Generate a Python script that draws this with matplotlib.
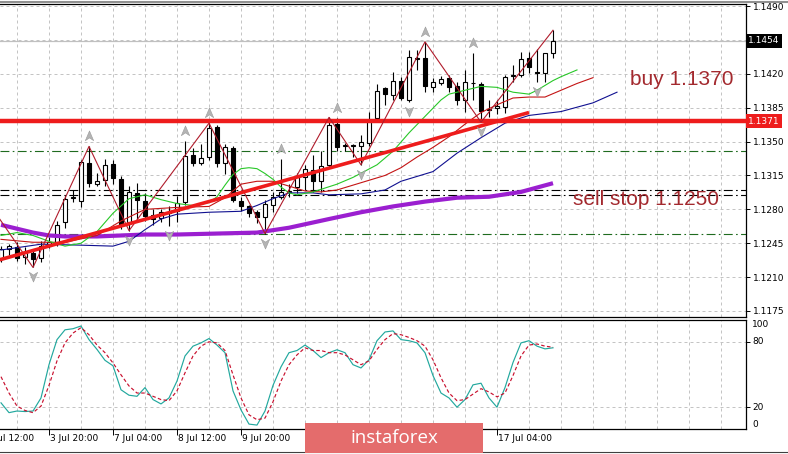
"""EURUSD H4 chart in the MT4 look: candles, alligator, zigzag, fractals, levels and a stochastic pane."""
import numpy as np
import matplotlib
matplotlib.use("Agg")
import matplotlib.pyplot as plt
from matplotlib.transforms import blended_transform_factory, offset_copy
from matplotlib.patches import Rectangle
from matplotlib.path import Path
from matplotlib.lines import Line2D

# ---- candles (bar index 2..71, one bar = 4h) ----
bar_idx = np.arange(2, 72)
opens = [1.1229, 1.1239, 1.1241, 1.1231, 1.1235, 1.1230, 1.1242, 1.1244, 1.1267, 1.1292,
         1.1289, 1.1328, 1.1306, 1.1310, 1.1327, 1.1311, 1.1267, 1.1297, 1.1289, 1.1274,
         1.1271, 1.1277, 1.1278, 1.1288, 1.1336, 1.1328, 1.1334, 1.1365, 1.1328, 1.1343,
         1.1289, 1.1283, 1.1277, 1.1272, 1.1285, 1.1293, 1.1298, 1.1303, 1.1313, 1.1321,
         1.1309, 1.1326, 1.1368, 1.1345, 1.1345, 1.1345, 1.1349, 1.1374, 1.1405, 1.1398,
         1.1413, 1.1393, 1.1436, 1.1436, 1.1406, 1.1411, 1.1416, 1.1407, 1.1393, 1.1411,
         1.1409, 1.1384, 1.1385, 1.1386, 1.1418, 1.1419, 1.1436, 1.1422, 1.1421, 1.1442]
highs = [1.1242, 1.1244, 1.1246, 1.1241, 1.1237, 1.1247, 1.1251, 1.1268, 1.1295, 1.1300,
         1.1331, 1.1345, 1.1318, 1.1332, 1.1331, 1.1314, 1.1304, 1.1307, 1.1297, 1.1280,
         1.1280, 1.1283, 1.1294, 1.1351, 1.1343, 1.1347, 1.1369, 1.1367, 1.1347, 1.1345,
         1.1293, 1.1285, 1.1279, 1.1290, 1.1298, 1.1332, 1.1306, 1.1318, 1.1326, 1.1336,
         1.1340, 1.1375, 1.1374, 1.1349, 1.1348, 1.1357, 1.1381, 1.1409, 1.1406, 1.1422,
         1.1417, 1.1445, 1.1445, 1.1453, 1.1416, 1.1418, 1.1419, 1.1412, 1.1424, 1.1442,
         1.1412, 1.1393, 1.1393, 1.1419, 1.1429, 1.1443, 1.1443, 1.1446, 1.1442, 1.1465]
lows = [1.1226, 1.1233, 1.1227, 1.1224, 1.1220, 1.1226, 1.1240, 1.1242, 1.1261, 1.1288,
        1.1282, 1.1303, 1.1304, 1.1304, 1.1306, 1.1260, 1.1258, 1.1270, 1.1268, 1.1264,
        1.1267, 1.1263, 1.1267, 1.1285, 1.1325, 1.1326, 1.1331, 1.1324, 1.1316, 1.1288,
        1.1278, 1.1272, 1.1266, 1.1255, 1.1277, 1.1291, 1.1293, 1.1297, 1.1300, 1.1298,
        1.1298, 1.1323, 1.1340, 1.1340, 1.1334, 1.1326, 1.1345, 1.1370, 1.1388, 1.1393,
        1.1393, 1.1391, 1.1424, 1.1401, 1.1401, 1.1408, 1.1401, 1.1388, 1.1381, 1.1393,
        1.1370, 1.1375, 1.1378, 1.1380, 1.1412, 1.1417, 1.1421, 1.1412, 1.1412, 1.1436]
closes = [1.1239, 1.1242, 1.1230, 1.1235, 1.1229, 1.1242, 1.1246, 1.1264, 1.1291, 1.1293,
          1.1329, 1.1307, 1.1309, 1.1326, 1.1312, 1.1264, 1.1298, 1.1290, 1.1273, 1.1270,
          1.1277, 1.1276, 1.1287, 1.1335, 1.1328, 1.1333, 1.1364, 1.1328, 1.1344, 1.1290,
          1.1283, 1.1276, 1.1272, 1.1286, 1.1293, 1.1298, 1.1299, 1.1314, 1.1322, 1.1309,
          1.1325, 1.1367, 1.1344, 1.1346, 1.1346, 1.1350, 1.1372, 1.1402, 1.1399, 1.1413,
          1.1395, 1.1437, 1.1435, 1.1407, 1.1412, 1.1415, 1.1406, 1.1393, 1.1412, 1.1410,
          1.1382, 1.1383, 1.1387, 1.1417, 1.1419, 1.1435, 1.1427, 1.1421, 1.1441, 1.1454]

# ---- moving averages, read at sample bars ----
lips_idx = [2, 4, 6, 8, 10, 12, 14, 16, 18, 20, 22, 24, 26, 28, 29, 30, 31, 32, 33, 34, 35, 36,
            37, 38, 39, 41, 44, 46, 49, 51, 53, 55, 57, 58, 60, 62, 64, 66, 68, 69, 71, 72, 74]
lips = [1.1253, 1.1256, 1.1253, 1.1247, 1.1242, 1.1245, 1.1257, 1.1276, 1.1291, 1.1295, 1.1290,
        1.1286, 1.1284, 1.1287, 1.1293, 1.1305, 1.1316, 1.1322, 1.1323, 1.1322, 1.1317, 1.1311,
        1.1303, 1.1297, 1.1295, 1.1298, 1.1306, 1.1313, 1.1326, 1.1340, 1.1359, 1.1376, 1.1393,
        1.1399, 1.1403, 1.1407, 1.1406, 1.1401, 1.1399, 1.1403, 1.1413, 1.1417, 1.1424]
teeth_idx = [2, 6, 10, 14, 17, 20, 24, 28, 30, 32, 34, 36, 38, 40, 42, 44, 46, 48, 50, 52, 54,
             56, 58, 60, 62, 64, 66, 68, 70, 72, 74, 76]
teeth = [1.1249, 1.1246, 1.1246, 1.1253, 1.1268, 1.1280, 1.1282, 1.1283, 1.1292, 1.1306, 1.1309,
         1.1309, 1.1304, 1.1299, 1.1298, 1.1300, 1.1305, 1.1310, 1.1315, 1.1323, 1.1334, 1.1344,
         1.1355, 1.1368, 1.1380, 1.1388, 1.1395, 1.1396, 1.1396, 1.1403, 1.1410, 1.1416]
jaw_idx = [2, 7, 12, 16, 18, 20, 22, 24, 28, 32, 34, 36, 38, 41, 43, 47, 50, 52, 56, 59, 62, 65,
           68, 72, 76, 79]
jaw = [1.1238, 1.1244, 1.1243, 1.1242, 1.1247, 1.1259, 1.1270, 1.1275, 1.1277, 1.1278, 1.1284,
       1.1291, 1.1297, 1.1297, 1.1295, 1.1296, 1.1300, 1.1309, 1.1319, 1.1338, 1.1354, 1.1369,
       1.1377, 1.1381, 1.1390, 1.1401]
slow_idx = [2, 4, 6, 8, 10, 14, 20, 24, 29, 34, 38, 43, 47, 51, 55, 59, 63, 67, 71]
slow_ma = [1.1264, 1.1260, 1.1256, 1.1253, 1.1252, 1.1252, 1.1254, 1.1254, 1.1255, 1.1256, 1.1261,
           1.1270, 1.1277, 1.1283, 1.1288, 1.1292, 1.1293, 1.1298, 1.1307]

# ---- zigzag, fractals, objects ----
zz_idx = [0, 6, 13, 18, 28, 35, 43, 47, 55, 62, 71]
zz_px = [1.1292, 1.1220, 1.1345, 1.1258, 1.1369, 1.1255, 1.1375, 1.1326, 1.1453, 1.1370, 1.1465]
frac_up = [13, 25, 28, 37, 44, 55, 61]
frac_dn = [6, 18, 23, 35, 47, 53, 62, 69]
trend_idx = [1, 68]
trend_px = [1.1226, 1.1380]
level_buy = 1.1371
green_levels = [1.1340, 1.1255]
black_levels = [1.1300, 1.1295]
last_price = 1.1454

# ---- stochastic ----
stoch_main = [24, 15, 16.5, 16, 16.5, 28.5, 59, 82, 91, 92, 94.5, 82, 73, 63, 58, 36, 31, 30, 38, 27,
              23, 28.5, 44, 67, 76, 79, 83, 77, 70, 35, 17.5, 4.5, 3.6, 16.5, 40, 57, 70, 72, 77, 72,
              65.5, 70, 72.7, 70, 59, 56, 63.5, 81, 89, 90, 82, 81, 79, 70, 49, 33, 28.5, 20, 27, 40.5,
              42, 28.5, 20, 38, 61, 79, 81, 76, 73.5, 74.5]
stoch_sig = [48, 33, 21, 17, 15, 21, 40, 62.5, 79, 88, 93, 86.5, 77, 70, 60.6, 49.7, 39.5, 33, 33, 30,
             27, 26, 35, 51.5, 67, 76, 80, 79, 72, 49.7, 28.5, 13, 8.5, 10, 25, 44, 59, 68, 74.5, 72,
             72, 70, 70, 68, 63.5, 59, 62.5, 73, 82, 87.5, 86.5, 84, 81, 76, 63.5, 47, 33, 26, 27, 32,
             37, 34, 29.5, 33, 49, 67, 77, 78, 76, 75]

price_ticks = [1.1175, 1.1210, 1.1245, 1.1280, 1.1315, 1.1350, 1.1385, 1.1420, 1.1455, 1.1490]
# time labels that are not hidden behind the logo
time_idx = [0, 8, 16, 24, 32, 64]
time_labels = ["2 Jul 12:00", "3 Jul 20:00", "7 Jul 04:00", "8 Jul 12:00", "9 Jul 20:00",
               "17 Jul 04:00"]
time_marks = [8, 16, 24, 32, 40, 48, 56, 64]

W, H = 788, 454
fig = plt.figure(figsize=(W / 100, H / 100), dpi=100)


def box(x0, y0, x1, y1):
    return [x0 / W, 1 - y1 / H, (x1 - x0) / W, (y1 - y0) / H]


ax = fig.add_axes(box(0, 4, 746, 317))
ax2 = fig.add_axes(box(0, 320, 746, 429))
XL = (1.875, 95.125)
GRID = dict(color="#c4c4c4", lw=0.72, ls=(0, (3, 3)), zorder=0)
for a in (ax, ax2):
    a.set_xlim(*XL)
    a.spines["left"].set_visible(False)
    for s in ("top", "right", "bottom"):
        a.spines[s].set_linewidth(0.9)
    for g in np.arange(4, 95, 4):
        a.axvline(g, **GRID)

ax.set_ylim(1.11688, 1.14921)
for p in price_ticks:
    ax.axhline(p, **GRID)
ax.axhline(last_price, color="#c0c0c0", lw=0.9, zorder=1)

tick_font = dict(family="DejaVu Sans", size=6.5)
ax.yaxis.tick_right()
ax.set_yticks(price_ticks)
ax.set_yticklabels([f"{p:.4f}" if p != 1.1455 else "" for p in price_ticks], **tick_font)
ax.tick_params(axis="y", length=3, width=0.7, pad=2)
ax.set_xticks([])

# candles
o, h, l, c = map(np.asarray, (opens, highs, lows, closes))
ax.vlines(bar_idx, l, h, color="black", lw=0.8, zorder=3)
body = np.maximum(np.abs(c - o), 0.00002)
ax.bar(bar_idx, body, bottom=np.minimum(o, c), width=0.56,
       color=np.where(c >= o, "white", "black"), edgecolor="black", linewidth=0.8, zorder=4)

# levels / objects
for p in green_levels:
    ax.axhline(p, color="#1f6b1f", lw=0.8, ls=(0, (8, 3, 1.5, 3)), zorder=2)
for p in black_levels:
    ax.axhline(p, color="black", lw=0.8, ls=(0, (8, 3, 1.5, 3)), zorder=2)
ax.axhline(level_buy, color="#ee1c1c", lw=3.2, zorder=6)

# indicators
ax.plot(slow_idx, slow_ma, color="#9b1fd0", lw=3.0, zorder=5, solid_capstyle="butt")
ax.plot(jaw_idx, jaw, color="#101090", lw=0.8, zorder=5)
ax.plot(teeth_idx, teeth, color="#c41414", lw=0.8, zorder=5)
ax.plot(lips_idx, lips, color="#28c828", lw=0.8, zorder=5)
ax.plot(zz_idx, zz_px, color="#b01c2c", lw=0.8, zorder=6)
ax.plot(trend_idx, trend_px, color="#ee1c1c", lw=2.6, zorder=6, solid_capstyle="butt")

arrow_up = Path([(0, 1), (0.75, -0.75), (0, -0.25), (-0.75, -0.75), (0, 1)],
                [Path.MOVETO, Path.LINETO, Path.LINETO, Path.LINETO, Path.CLOSEPOLY])
arrow_dn = Path([(0, -1), (0.75, 0.75), (0, 0.25), (-0.75, 0.75), (0, -1)],
                [Path.MOVETO, Path.LINETO, Path.LINETO, Path.LINETO, Path.CLOSEPOLY])
ax.plot(frac_up, h[np.array(frac_up) - 2], ls="none", marker=arrow_up, ms=8, color="#b4b4b4",
        mec="#9a9a9a", mew=0.4, zorder=7, transform=offset_copy(ax.transData, fig=fig, y=10, units="dots"))
ax.plot(frac_dn, l[np.array(frac_dn) - 2], ls="none", marker=arrow_dn, ms=8, color="#b4b4b4",
        mec="#9a9a9a", mew=0.4, zorder=7, transform=offset_copy(ax.transData, fig=fig, y=-9, units="dots"))

# annotations
note = dict(family="Liberation Sans", size=15, color="#a3292e", ha="left", va="center", zorder=8)
ax.text(80.6, 1.1414, "buy 1.1370", **note)
ax.text(73.5, 1.1290, "sell stop 1.1250", **note)

edge = blended_transform_factory(ax.transAxes, ax.transData)
ax.text(1.003, last_price, "1.1454", transform=edge, color="white", ha="left", va="center",
        bbox=dict(facecolor="black", edgecolor="none", pad=1.6), clip_on=False, **tick_font)
ax.text(1.003, level_buy, "1.1371", transform=edge, color="white", ha="left", va="center",
        bbox=dict(facecolor="#ee1c1c", edgecolor="none", pad=1.6), clip_on=False, **tick_font)

# stochastic pane
ax2.set_ylim(0, 100)
for v in (80, 20):
    ax2.axhline(v, **GRID)
ax2.plot(bar_idx, stoch_main, color="#22a89e", lw=0.85, zorder=3)
ax2.plot(bar_idx, stoch_sig, color="#c8102e", lw=0.85, ls=(0, (3, 2)), zorder=3)
ax2.yaxis.tick_right()
ax2.set_yticks([20, 80])
ax2.set_yticklabels(["", ""])
ax2.tick_params(axis="y", length=3, width=0.7)
edge2 = blended_transform_factory(ax2.transAxes, ax2.transData)
for v, va in ((100, "top"), (80, "center"), (20, "center"), (0, "bottom")):
    ax2.text(1.008, v, str(v), transform=edge2, ha="left", va=va, clip_on=False, **tick_font)

ax2.set_xticks(time_marks)
ax2.set_xticklabels([])
ax2.tick_params(axis="x", length=4, width=0.7, direction="out")
edge3 = blended_transform_factory(ax2.transData, ax2.transAxes)
for t, lab in zip(time_idx, time_labels):
    ax2.text(t + 0.15, -0.083, lab, transform=edge3, ha="left", va="center", clip_on=False, **tick_font)

# frame lines and logo
fig.add_artist(Line2D([0, 1], [1 - 1.5 / H, 1 - 1.5 / H], color="#909090", lw=1.5))
fig.add_artist(Line2D([0, 1], [1 - 451.5 / H, 1 - 451.5 / H], color="#404040", lw=0.8))
fig.add_artist(Rectangle((305 / W, 1 - 453 / H), 178 / W, 30 / H, transform=fig.transFigure,
                         facecolor="#e46c6c", edgecolor="none", zorder=20))
fig.text(394 / W, 1 - 438 / H, "instaforex", family="Open Sans", size=13.5, color="white",
         ha="center", va="center", zorder=21)

fig.savefig("out.png", dpi=100)
